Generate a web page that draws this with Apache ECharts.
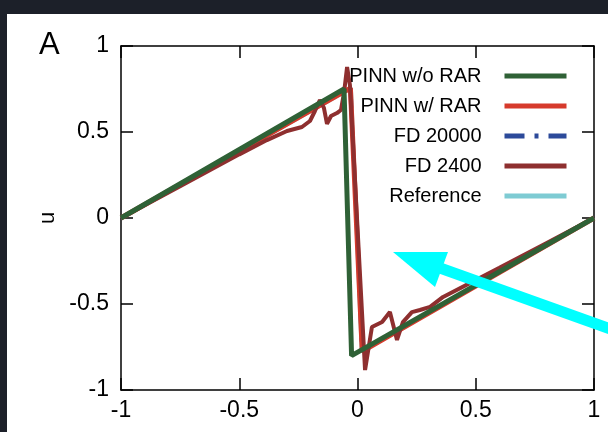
<!DOCTYPE html>
<html>
<head>
<meta charset="utf-8">
<script src="https://cdn.jsdelivr.net/npm/echarts@6/dist/echarts.min.js"></script>
<style>
html,body{margin:0;padding:0;background:#1c2029;}
#main{width:608px;height:432px;}
</style>
</head>
<body>
<div id="main"></div>
<script>
// [x, u] pairs
var pinnNoRar = [[-1,0],[-0.057,0.75],[-0.025,-0.80],[1,0]];
var pinnRar = [[-1,0],[-0.03,0.755],[0.02,-0.775],[1,0]];
var fd20000 = [[-1,0],[-0.027,0.755],[0.017,-0.77],[1,0]];
var fd2400 = [[-1,0],[-0.75,0.185],[-0.5,0.37],[-0.383,0.453],[-0.298,0.506],[-0.235,0.529],
  [-0.201,0.564],[-0.18,0.622],[-0.159,0.686],[-0.142,0.64],[-0.129,0.547],[-0.112,0.593],
  [-0.087,0.61],[-0.07,0.628],[-0.057,0.727],[-0.044,0.878],[-0.032,0.773],[0.032,-0.884],
  [0.061,-0.634],[0.104,-0.605],[0.137,-0.547],[0.167,-0.709],[0.192,-0.605],[0.23,-0.547],
  [0.264,-0.535],[0.307,-0.517],[0.362,-0.459],[0.6,-0.29],[0.8,-0.145],[1,0]];
var reference = [[-1,0],[-0.028,0.755],[0.018,-0.775],[1,0]];
var names = ['PINN w/o RAR','PINN w/ RAR','FD 20000','FD 2400','Reference'];

var font = '"Liberation Sans", Arial, sans-serif';
var myChart = echarts.init(document.getElementById('main'));

function axisCommon(){
  return {
    type:'value', min:-1, max:1, interval:0.5,
    splitLine:{show:false},
    axisLine:{show:true, onZero:false, lineStyle:{color:'#000', width:1.5}},
    axisTick:{show:true, inside:true, length:12, lineStyle:{color:'#000', width:1.5}}
  };
}
var xb = axisCommon();
xb.position = 'bottom';
xb.axisLabel = {fontSize:23, fontFamily:font, color:'#000', margin:9};
var xt = axisCommon();
xt.position = 'top';
xt.axisLabel = {show:false};
var yl = axisCommon();
yl.position = 'left';
yl.axisLabel = {fontSize:23, fontFamily:font, color:'#000', margin:12};
yl.name = 'u';
yl.nameLocation = 'middle';
yl.nameGap = 58;
yl.nameTextStyle = {fontSize:22, fontFamily:font, color:'#000'};
var yr = axisCommon();
yr.position = 'right';
yr.axisLabel = {show:false};

var option = {
  backgroundColor:'#1c2029',
  animation:false,
  grid:{left:121, right:14, top:46, bottom:42},
  xAxis:[xb, xt],
  yAxis:[yl, yr],
  legend:{
    orient:'vertical', right:34, top:61, align:'right',
    itemWidth:62, itemHeight:14, itemGap:10,
    itemStyle:{opacity:0},
    lineStyle:{width:5},
    textStyle:{fontSize:20, fontFamily:font, color:'#000', padding:[0,18,0,0]},
    data:names
  },
  graphic:[
    {type:'rect', z:-10, shape:{x:7, y:14, width:601, height:418}, style:{fill:'#fff'}},
    {type:'text', left:39, top:30, style:{text:'A', fontSize:31, fontFamily:font, fill:'#000'}},
    {type:'line', z:100, shape:{x1:440, y1:268, x2:630, y2:336}, style:{stroke:'#00ffff', lineWidth:11}},
    {type:'polygon', z:100, shape:{points:[[393,252],[448,252],[435,287]]}, style:{fill:'#00ffff'}}
  ],
  series:[
    {name:'Reference', type:'line', data:reference, symbol:'none', z:2,
     lineStyle:{color:'#7ecbd3', width:4}, itemStyle:{color:'#7ecbd3'}},
    {name:'FD 20000', type:'line', data:fd20000, symbol:'none', z:3,
     lineStyle:{color:'#2c4a9a', width:3, type:[20,10,4,10]}, itemStyle:{color:'#2c4a9a'}},
    {name:'PINN w/ RAR', type:'line', data:pinnRar, symbol:'none', z:4,
     lineStyle:{color:'#d63a2c', width:5}, itemStyle:{color:'#d63a2c'}},
    {name:'FD 2400', type:'line', data:fd2400, symbol:'none', z:5,
     lineStyle:{color:'#8e2f2f', width:4}, itemStyle:{color:'#8e2f2f'}},
    {name:'PINN w/o RAR', type:'line', data:pinnNoRar, symbol:'none', z:6,
     lineStyle:{color:'#2f6136', width:5}, itemStyle:{color:'#2f6136'}}
  ]
};
myChart.setOption(option);
</script>
</body>
</html>
